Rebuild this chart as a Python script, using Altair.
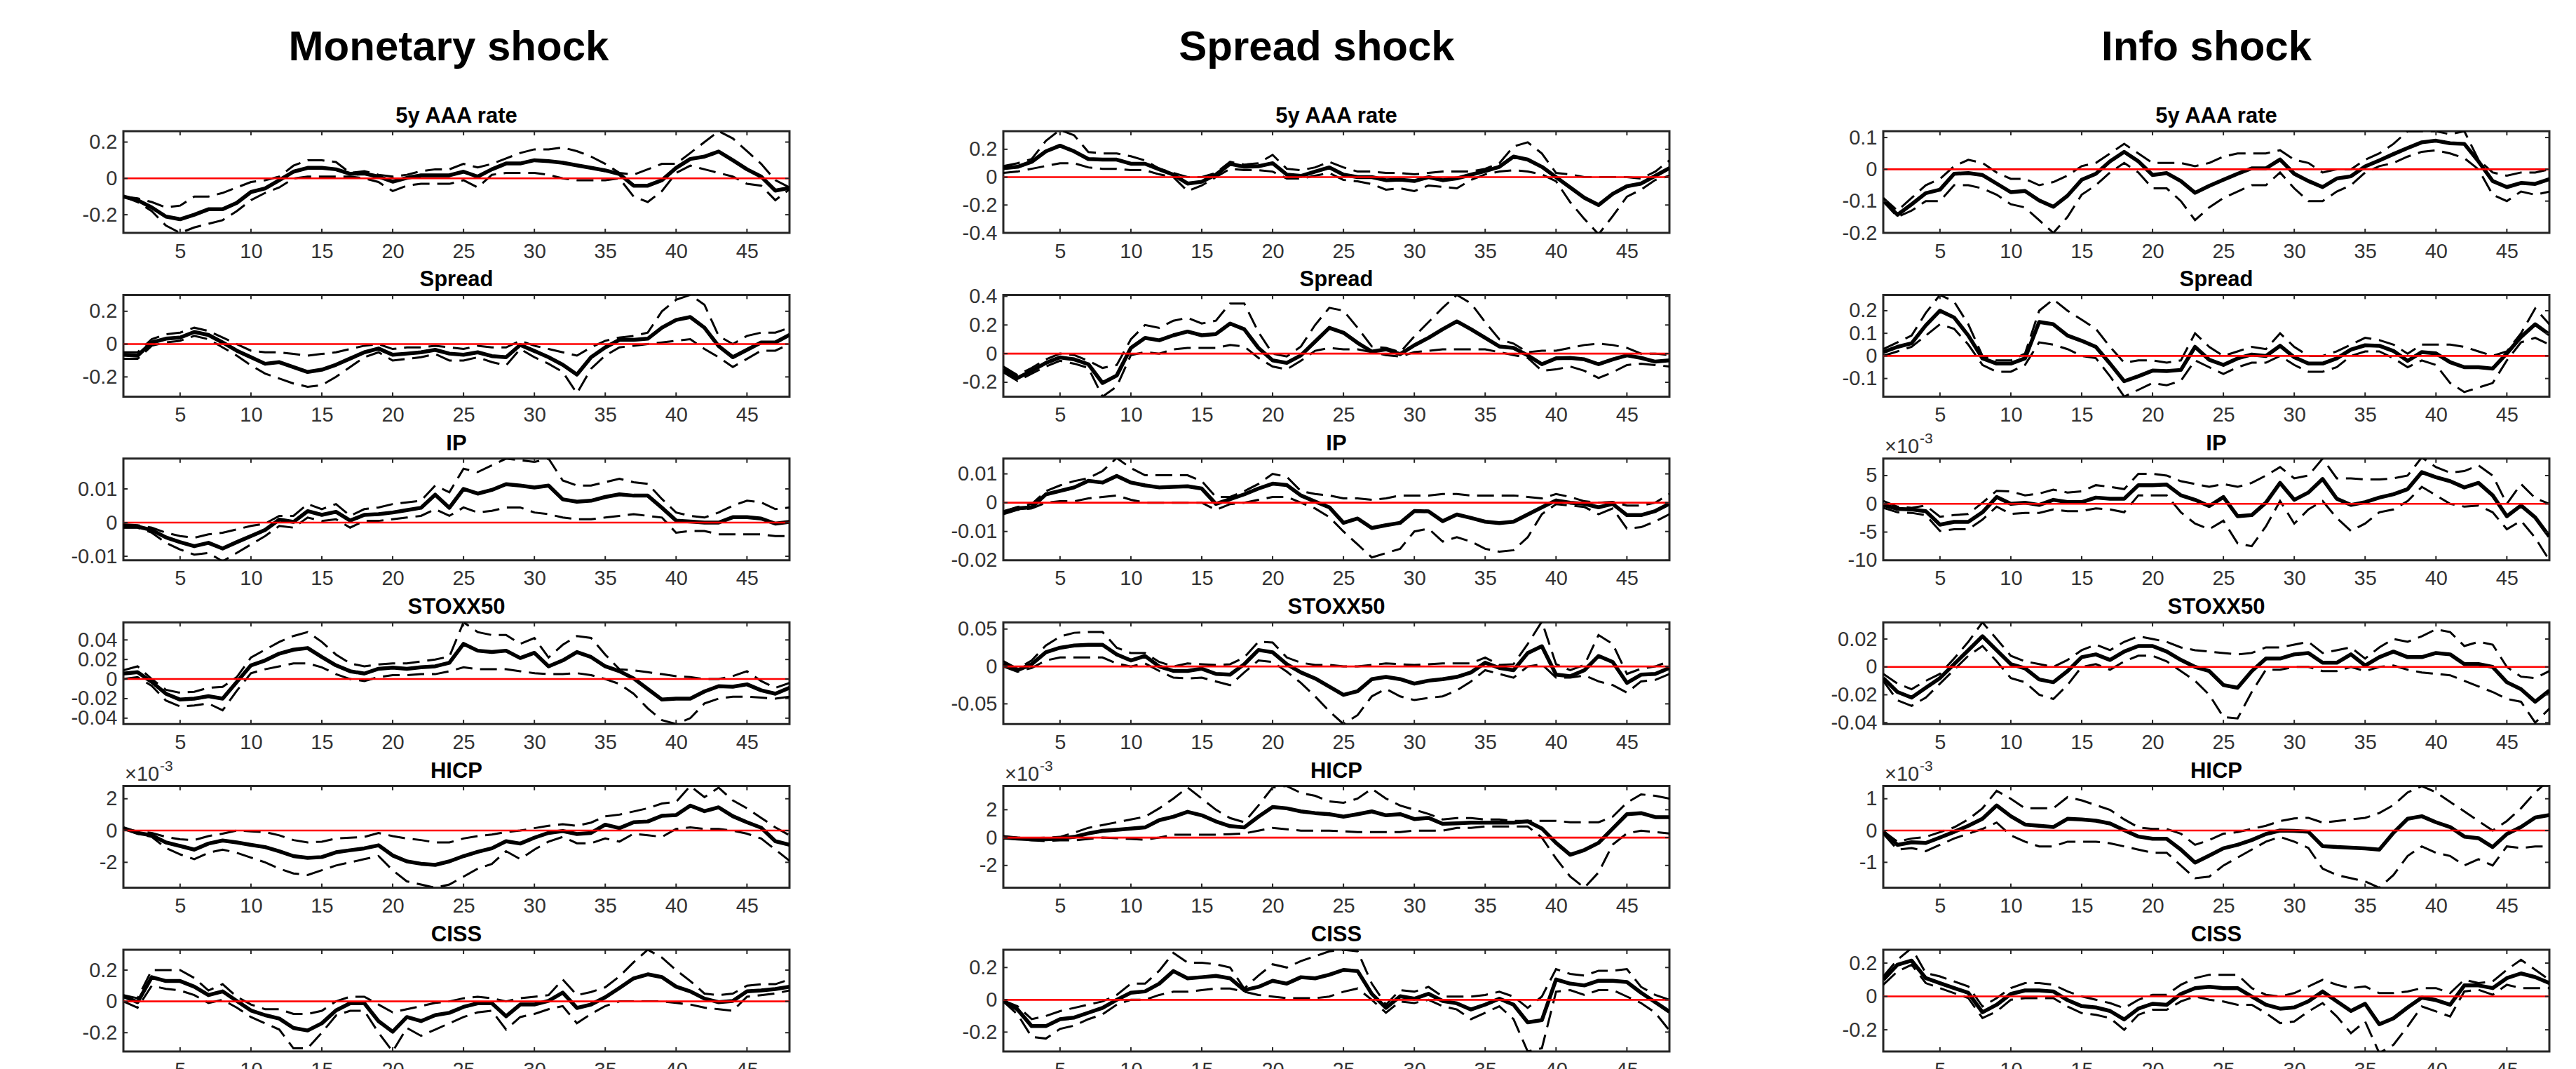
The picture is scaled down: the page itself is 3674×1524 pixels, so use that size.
import altair as alt
import pandas as pd

FONT = "Liberation Sans"
FRAME = "#262626"
LABEL = "#333333"

H_STEPS = list(range(1, 49))
X_TICKS = [5, 10, 15, 20, 25, 30, 35, 40, 45]

SHOCKS = ["Monetary shock", "Spread shock", "Info shock"]
VARIABLES = ["5y AAA rate", "Spread", "IP", "STOXX50", "HICP", "CISS"]

# ---------------- Monetary shock ----------------
MON_AAA_IRF = [-0.10, -0.12, -0.16, -0.21, -0.225, -0.20, -0.17, -0.17, -0.135, -0.075, -0.055, -0.01,
               0.037, 0.058, 0.058, 0.05, 0.025, 0.027, 0.01, -0.018, 0.003, 0.017, 0.017, 0.017,
               0.037, 0.01, 0.05, 0.082, 0.082, 0.10, 0.095, 0.086, 0.072, 0.058, 0.044, 0.024,
               -0.04, -0.04, -0.01, 0.058, 0.107, 0.12, 0.148, 0.10, 0.05, 0.01, -0.067, -0.053]
MON_AAA_UP = [-0.10, -0.11, -0.13, -0.16, -0.15, -0.10, -0.10, -0.08, -0.05, -0.02, -0.01, 0.01,
              0.07, 0.10, 0.10, 0.09, 0.03, 0.04, 0.02, 0.01, 0.02, 0.04, 0.05, 0.05,
              0.08, 0.06, 0.08, 0.11, 0.14, 0.16, 0.16, 0.17, 0.15, 0.12, 0.08, 0.03,
              0.02, 0.05, 0.08, 0.08, 0.14, 0.20, 0.26, 0.22, 0.15, 0.08, -0.01, -0.05]
MON_AAA_LO = [-0.10, -0.13, -0.18, -0.26, -0.30, -0.27, -0.25, -0.23, -0.18, -0.12, -0.08, -0.05,
              0.0, 0.01, 0.01, 0.01, 0.01, 0.0, -0.02, -0.07, -0.04, -0.03, -0.03, -0.03,
              -0.01, -0.05, 0.02, 0.03, 0.03, 0.03, 0.02, 0.0, -0.01, -0.01, -0.01, 0.0,
              -0.10, -0.13, -0.07, 0.03, 0.07, 0.05, 0.03, 0.01, -0.03, -0.04, -0.12, -0.06]

MON_SPR_IRF = [-0.065, -0.07, 0.01, 0.033, 0.04, 0.074, 0.056, 0.01, -0.04, -0.08, -0.12, -0.11,
               -0.14, -0.17, -0.156, -0.126, -0.088, -0.05, -0.027, -0.065, -0.058, -0.05, -0.035, -0.058,
               -0.065, -0.05, -0.073, -0.08, -0.005, -0.042, -0.08, -0.126, -0.186, -0.08, -0.02, 0.026,
               0.026, 0.033, 0.10, 0.147, 0.165, 0.10, -0.012, -0.08, -0.035, 0.01, 0.01, 0.056]
MON_SPR_UP = [-0.05, -0.05, 0.03, 0.06, 0.07, 0.10, 0.08, 0.04, 0.0, -0.04, -0.05, -0.05,
              -0.06, -0.07, -0.06, -0.05, -0.03, -0.01, 0.0, -0.03, -0.02, -0.02, -0.01, -0.02,
              -0.03, -0.01, -0.02, -0.02, 0.02, -0.01, -0.03, -0.05, -0.07, -0.02, 0.02, 0.04,
              0.05, 0.07, 0.20, 0.27, 0.30, 0.24, 0.05, 0.0, 0.05, 0.07, 0.07, 0.10]
MON_SPR_LO = [-0.09, -0.09, -0.01, 0.01, 0.02, 0.05, 0.03, -0.02, -0.07, -0.13, -0.18, -0.21,
              -0.24, -0.26, -0.25, -0.20, -0.14, -0.08, -0.05, -0.10, -0.09, -0.08, -0.06, -0.10,
              -0.10, -0.08, -0.11, -0.13, -0.03, -0.08, -0.12, -0.17, -0.30, -0.15, -0.07, -0.02,
              -0.01, 0.0, 0.01, 0.02, 0.03, -0.03, -0.08, -0.14, -0.09, -0.04, -0.04, 0.0]

MON_IP_IRF = [-0.0012, -0.0012, -0.0022, -0.0044, -0.0058, -0.007, -0.006, -0.0077, -0.0058, -0.004, -0.0022, 0.0009,
              0.0002, 0.0034, 0.0023, 0.0032, 0.0006, 0.0023, 0.0025, 0.003, 0.0037, 0.0044, 0.0083, 0.0044,
              0.01, 0.0086, 0.0097, 0.0114, 0.011, 0.0104, 0.011, 0.0069, 0.0062, 0.0065, 0.0076, 0.0084,
              0.008, 0.008, 0.0044, 0.0006, 0.0003, 0.0, 0.0, 0.0016, 0.0016, 0.0012, -0.0003, 0.0002]
MON_IP_UP = [-0.0005, -0.0008, -0.0015, -0.003, -0.004, -0.0045, -0.0035, -0.003, -0.002, -0.001, -0.0003, 0.002,
             0.002, 0.0055, 0.004, 0.0055, 0.002, 0.004, 0.0045, 0.0055, 0.006, 0.0065, 0.011, 0.009,
             0.016, 0.015, 0.017, 0.019, 0.0185, 0.018, 0.019, 0.0125, 0.011, 0.011, 0.012, 0.013,
             0.012, 0.0115, 0.007, 0.003, 0.002, 0.0015, 0.003, 0.005, 0.0065, 0.006, 0.004, 0.0045]
MON_IP_LO = [-0.0015, -0.0015, -0.003, -0.006, -0.008, -0.0095, -0.009, -0.0115, -0.009, -0.0065, -0.004, -0.001,
             -0.0015, 0.0015, 0.0005, 0.001, -0.0015, 0.0005, 0.0005, 0.001, 0.0015, 0.002, 0.004, 0.002,
             0.0045, 0.003, 0.0035, 0.0045, 0.0045, 0.003, 0.0025, 0.0015, 0.001, 0.001, 0.0015, 0.002,
             0.0025, 0.002, 0.0015, -0.003, -0.0025, -0.0025, -0.0035, -0.0035, -0.0035, -0.0035, -0.004, -0.004]

MON_STX_IRF = [0.0056, 0.007, -0.003, -0.015, -0.021, -0.02, -0.0175, -0.02, -0.003, 0.014, 0.019, 0.026,
               0.03, 0.0317, 0.0225, 0.014, 0.008, 0.0056, 0.0105, 0.0117, 0.0105, 0.012, 0.013, 0.0166,
               0.036, 0.029, 0.0276, 0.029, 0.0215, 0.0268, 0.013, 0.019, 0.0276, 0.0225, 0.013, 0.008,
               0.0007, -0.0102, -0.021, -0.02, -0.02, -0.0127, -0.0073, -0.0078, -0.0054, -0.0115, -0.015, -0.009]
MON_STX_UP = [0.009, 0.013, 0.0, -0.011, -0.014, -0.013, -0.009, -0.008, 0.002, 0.022, 0.03, 0.038,
              0.044, 0.048, 0.038, 0.025, 0.016, 0.013, 0.015, 0.016, 0.016, 0.018, 0.02, 0.023,
              0.058, 0.048, 0.045, 0.045, 0.036, 0.042, 0.022, 0.035, 0.044, 0.042, 0.025, 0.01,
              0.009, 0.007, 0.005, 0.003, 0.002, 0.0, 0.0, 0.003, 0.008, -0.002, -0.009, -0.004]
MON_STX_LO = [0.0, 0.002, -0.007, -0.022, -0.028, -0.027, -0.025, -0.032, -0.012, 0.006, 0.01, 0.013,
              0.016, 0.016, 0.012, 0.005, 0.0, -0.002, 0.002, 0.004, 0.004, 0.005, 0.005, 0.008,
              0.012, 0.01, 0.01, 0.01, 0.008, 0.006, 0.005, 0.005, 0.006, 0.004, 0.0, -0.005,
              -0.015, -0.03, -0.042, -0.046, -0.04, -0.025, -0.02, -0.018, -0.018, -0.019, -0.02, -0.018]

# HICP values in units of 1e-3
MON_HICP_IRF = [0.15, -0.15, -0.3, -0.75, -0.97, -1.2, -0.82, -0.63, -0.75, -0.9, -1.04, -1.31,
                -1.61, -1.72, -1.67, -1.37, -1.24, -1.12, -0.93, -1.57, -1.94, -2.09, -2.16, -1.94,
                -1.61, -1.34, -1.12, -0.67, -0.82, -0.45, -0.15, -0.03, -0.22, -0.15, 0.37, 0.15,
                0.52, 0.57, 0.93, 0.97, 1.57, 1.22, 1.46, 0.9, 0.52, 0.18, -0.67, -0.9]
MON_HICP_UP = [0.15, -0.05, -0.15, -0.4, -0.55, -0.6, -0.35, -0.2, 0.0, -0.05, -0.1, -0.3,
               -0.6, -0.75, -0.7, -0.5, -0.45, -0.4, -0.15, -0.35, -0.5, -0.6, -0.75, -0.75,
               -0.5, -0.35, -0.25, -0.1, 0.0, 0.15, 0.3, 0.4, 0.3, 0.5, 0.9, 1.0,
               1.2, 1.4, 1.7, 1.8, 2.8, 2.1, 2.7, 1.9, 1.4, 0.8, 0.2, -0.3]
MON_HICP_LO = [0.1, -0.2, -0.4, -1.1, -1.5, -1.8, -1.4, -1.2, -1.4, -1.7, -2.0, -2.4,
               -2.7, -2.8, -2.5, -2.2, -2.0, -1.8, -1.6, -2.5, -3.2, -3.4, -3.6, -3.4,
               -2.9, -2.4, -2.1, -1.3, -1.8, -1.2, -0.7, -0.4, -0.8, -0.8, -0.5, -0.7,
               -0.2, -0.3, -0.4, 0.1, 0.2, 0.1, 0.1, 0.0, -0.2, -0.5, -1.2, -1.9]

MON_CISS_IRF = [0.033, -0.005, 0.155, 0.13, 0.13, 0.094, 0.04, 0.064, 0.003, -0.058, -0.088, -0.11,
                -0.17, -0.186, -0.14, -0.058, -0.012, -0.012, -0.126, -0.194, -0.1, -0.126, -0.088, -0.073,
                -0.035, -0.012, -0.012, -0.095, -0.02, -0.02, 0.003, 0.056, -0.042, -0.02, 0.026, 0.086,
                0.147, 0.173, 0.155, 0.094, 0.064, 0.018, -0.005, 0.003, 0.064, 0.07, 0.079, 0.094]
MON_CISS_UP = [0.04, 0.02, 0.2, 0.2, 0.2, 0.15, 0.07, 0.11, 0.03, -0.02, -0.05, -0.05,
               -0.08, -0.08, -0.06, 0.0, 0.03, 0.03, -0.02, -0.07, -0.05, -0.03, -0.01, 0.0,
               0.02, 0.03, 0.02, 0.0, 0.02, 0.03, 0.04, 0.14, 0.04, 0.06, 0.09, 0.16,
               0.25, 0.33, 0.28, 0.20, 0.13, 0.05, 0.04, 0.05, 0.1, 0.11, 0.11, 0.14]
MON_CISS_LO = [0.0, -0.04, 0.1, 0.08, 0.07, 0.04, -0.01, 0.01, -0.04, -0.1, -0.14, -0.18,
               -0.3, -0.3, -0.2, -0.09, -0.06, -0.06, -0.2, -0.32, -0.17, -0.22, -0.18, -0.14,
               -0.1, -0.07, -0.06, -0.18, -0.1, -0.08, -0.05, -0.03, -0.14, -0.08, -0.03, 0.0,
               0.0, 0.0, 0.0, -0.01, -0.02, -0.04, -0.05, -0.06, 0.03, 0.04, 0.05, 0.07]

# ---------------- Spread shock ----------------
SPR_AAA_IRF = [0.065, 0.074, 0.11, 0.185, 0.226, 0.185, 0.13, 0.126, 0.126, 0.096, 0.096, 0.056,
               0.018, -0.046, -0.033, 0.018, 0.096, 0.074, 0.078, 0.10, 0.018, 0.009, 0.04, 0.07,
               0.018, 0.0, 0.0, -0.022, -0.018, -0.028, 0.0, -0.022, -0.009, 0.018, 0.044, 0.074,
               0.148, 0.126, 0.074, 0.0, -0.074, -0.148, -0.20, -0.12, -0.065, -0.046, 0.009, 0.065]
SPR_AAA_UP = [0.08, 0.10, 0.13, 0.26, 0.34, 0.30, 0.18, 0.17, 0.17, 0.15, 0.12, 0.06,
              0.03, 0.0, 0.0, 0.03, 0.11, 0.09, 0.10, 0.16, 0.06, 0.05, 0.07, 0.11,
              0.07, 0.04, 0.04, 0.03, 0.03, 0.02, 0.03, 0.04, 0.04, 0.04, 0.06, 0.10,
              0.22, 0.25, 0.17, 0.03, 0.02, 0.0, 0.0, 0.0, 0.0, -0.01, 0.04, 0.12]
SPR_AAA_LO = [0.03, 0.04, 0.06, 0.08, 0.10, 0.10, 0.07, 0.06, 0.06, 0.05, 0.05, 0.02,
              0.0, -0.10, -0.06, 0.0, 0.06, 0.05, 0.05, 0.04, -0.01, -0.01, 0.01, 0.03,
              -0.02, -0.03, -0.05, -0.09, -0.08, -0.10, -0.06, -0.07, -0.08, -0.02, 0.02, 0.04,
              0.05, 0.04, 0.02, -0.03, -0.18, -0.30, -0.41, -0.28, -0.14, -0.09, -0.02, 0.01]

SPR_SPR_IRF = [-0.11, -0.17, -0.12, -0.065, -0.026, -0.04, -0.074, -0.205, -0.153, 0.04, 0.11, 0.093,
               0.128, 0.154, 0.128, 0.137, 0.21, 0.17, 0.04, -0.047, -0.065, -0.012, 0.084, 0.18,
               0.146, 0.075, 0.014, 0.03, -0.004, 0.058, 0.11, 0.17, 0.225, 0.17, 0.11, 0.05,
               0.04, -0.012, -0.074, -0.033, -0.03, -0.04, -0.074, -0.04, -0.012, -0.03, -0.056, -0.047]
SPR_SPR_UP = [-0.09, -0.15, -0.10, -0.04, 0.0, -0.01, -0.05, -0.10, -0.08, 0.10, 0.20, 0.18,
              0.23, 0.25, 0.21, 0.23, 0.35, 0.35, 0.15, 0.0, -0.02, 0.05, 0.20, 0.32,
              0.30, 0.18, 0.05, 0.04, 0.01, 0.12, 0.22, 0.32, 0.41, 0.35, 0.22, 0.10,
              0.07, 0.01, 0.02, 0.02, 0.04, 0.06, 0.07, 0.06, 0.04, 0.0, 0.0, -0.01]
SPR_SPR_LO = [-0.13, -0.19, -0.14, -0.09, -0.05, -0.07, -0.10, -0.30, -0.23, -0.01, 0.01, 0.0,
              0.03, 0.04, 0.04, 0.04, 0.06, 0.05, -0.03, -0.09, -0.11, -0.05, 0.02, 0.04,
              0.03, 0.03, 0.01, -0.01, -0.02, 0.01, 0.02, 0.03, 0.03, 0.03, 0.03, 0.01,
              -0.01, -0.03, -0.12, -0.11, -0.09, -0.12, -0.17, -0.13, -0.08, -0.07, -0.08, -0.09]

SPR_IP_IRF = [-0.0033, -0.002, -0.0016, 0.0029, 0.0041, 0.0053, 0.0076, 0.007, 0.0093, 0.007, 0.006, 0.0053,
              0.0055, 0.0057, 0.0049, -0.0004, 0.0012, 0.0029, 0.0049, 0.0066, 0.0061, 0.0025, 0.0004, -0.0016,
              -0.007, -0.0055, -0.0088, -0.0078, -0.007, -0.0029, -0.003, -0.0064, -0.0041, -0.0053, -0.0066, -0.0071,
              -0.0066, -0.0041, -0.0016, 0.0008, 0.0, -0.0004, -0.0016, -0.0004, -0.0043, -0.0043, -0.0029, -0.0004]
SPR_IP_UP = [-0.003, -0.0015, -0.0005, 0.004, 0.006, 0.0075, 0.0085, 0.011, 0.0155, 0.012, 0.0095, 0.0095,
             0.0095, 0.0095, 0.0075, 0.002, 0.002, 0.004, 0.0065, 0.01, 0.009, 0.004, 0.003, 0.0025,
             0.0015, 0.0015, 0.001, 0.0015, 0.0025, 0.0025, 0.0025, 0.003, 0.003, 0.0025, 0.0025, 0.0025,
             0.0025, 0.002, 0.0015, 0.003, 0.002, 0.0005, 0.0, 0.0003, -0.001, -0.001, 0.0, 0.003]
SPR_IP_LO = [-0.004, -0.0025, -0.002, 0.0, 0.0005, 0.0005, 0.0015, 0.002, 0.0025, 0.001, 0.0, 0.0,
             0.0, 0.0, 0.0, -0.0025, -0.0005, 0.0, 0.001, 0.002, 0.002, 0.0, -0.002, -0.005,
             -0.01, -0.0145, -0.019, -0.0175, -0.016, -0.01, -0.009, -0.0135, -0.012, -0.0135, -0.016, -0.017,
             -0.0165, -0.012, -0.004, -0.0005, -0.001, -0.0015, -0.004, -0.002, -0.009, -0.0085, -0.0065, -0.004]

SPR_STX_IRF = [0.003, -0.005, 0.003, 0.019, 0.025, 0.028, 0.029, 0.029, 0.016, 0.008, 0.014, 0.0,
               -0.006, -0.006, -0.003, -0.01, -0.011, 0.003, 0.022, 0.019, 0.003, -0.008, -0.016, -0.027,
               -0.038, -0.033, -0.017, -0.014, -0.017, -0.023, -0.019, -0.017, -0.014, -0.008, 0.005, -0.002,
               -0.005, 0.018, 0.027, -0.011, -0.013, -0.005, 0.014, 0.006, -0.022, -0.011, -0.01, -0.002]
SPR_STX_UP = [0.007, -0.003, 0.008, 0.028, 0.040, 0.045, 0.046, 0.046, 0.025, 0.018, 0.018, 0.006,
              0.0, 0.004, 0.003, 0.002, 0.003, 0.012, 0.033, 0.032, 0.012, 0.005, 0.002, 0.002,
              0.0, 0.0, 0.002, 0.004, 0.003, 0.002, 0.003, 0.004, 0.004, 0.004, 0.012, 0.002,
              0.003, 0.030, 0.060, 0.003, -0.005, 0.002, 0.042, 0.03, -0.01, -0.003, 0.0, 0.007]
SPR_STX_LO = [0.0, -0.007, -0.002, 0.008, 0.012, 0.012, 0.012, 0.012, 0.004, 0.0, 0.004, -0.006,
              -0.015, -0.016, -0.015, -0.02, -0.025, -0.008, 0.008, 0.006, -0.007, -0.022, -0.04, -0.06,
              -0.077, -0.065, -0.04, -0.03, -0.04, -0.045, -0.042, -0.04, -0.032, -0.02, -0.005, -0.01,
              -0.015, 0.0, 0.003, -0.015, -0.015, -0.012, -0.02, -0.025, -0.035, -0.02, -0.018, -0.01]

SPR_HICP_IRF = [0.0, -0.07, -0.12, -0.12, -0.07, 0.05, 0.3, 0.48, 0.56, 0.65, 0.73, 1.25,
                1.5, 1.85, 1.6, 1.16, 0.82, 0.73, 1.5, 2.19, 2.1, 1.88, 1.76, 1.68,
                1.5, 1.68, 1.88, 1.6, 1.68, 1.33, 1.42, 0.99, 1.03, 1.08, 1.08, 1.08,
                1.08, 1.16, 0.65, -0.38, -1.23, -0.89, -0.38, 0.65, 1.68, 1.76, 1.47, 1.47]
SPR_HICP_UP = [0.1, 0.0, -0.05, 0.0, 0.05, 0.35, 0.7, 0.9, 1.1, 1.3, 1.5, 2.1,
               2.8, 3.6, 2.8, 2.0, 1.4, 1.1, 2.3, 3.6, 3.7, 3.2, 3.0, 2.6,
               2.5, 2.8, 3.5, 2.8, 2.3, 2.0, 1.7, 1.3, 1.4, 1.4, 1.3, 1.3,
               1.2, 1.2, 1.2, 1.2, 1.1, 1.1, 1.1, 1.5, 2.5, 3.1, 3.0, 2.8]
SPR_HICP_LO = [-0.05, -0.1, -0.2, -0.25, -0.2, -0.2, -0.1, 0.0, -0.05, -0.1, -0.15, 0.0,
               0.2, 0.2, 0.2, 0.2, 0.25, 0.3, 0.5, 0.7, 0.6, 0.5, 0.5, 0.5,
               0.45, 0.4, 0.4, 0.4, 0.4, 0.5, 0.5, 0.5, 0.7, 0.7, 0.8, 0.8,
               0.8, 0.8, 0.0, -1.5, -2.8, -3.6, -2.5, -0.5, 0.3, 0.5, 0.4, 0.3]

SPR_CISS_IRF = [-0.007, -0.06, -0.163, -0.163, -0.12, -0.11, -0.08, -0.05, 0.0, 0.044, 0.052, 0.10,
                0.178, 0.133, 0.14, 0.148, 0.133, 0.06, 0.08, 0.118, 0.10, 0.14, 0.133, 0.155,
                0.185, 0.178, 0.037, -0.05, 0.022, 0.007, 0.037, -0.007, -0.022, -0.06, -0.03, 0.007,
                -0.03, -0.14, -0.126, 0.126, 0.10, 0.089, 0.118, 0.118, 0.11, 0.044, -0.015, -0.074]
SPR_CISS_UP = [-0.005, -0.04, -0.12, -0.10, -0.07, -0.05, -0.03, -0.01, 0.03, 0.10, 0.10, 0.18,
               0.29, 0.23, 0.23, 0.22, 0.20, 0.07, 0.15, 0.22, 0.20, 0.24, 0.27, 0.30,
               0.31, 0.30, 0.10, -0.03, 0.06, 0.05, 0.08, 0.02, 0.02, 0.02, 0.03, 0.05,
               0.02, -0.05, 0.02, 0.19, 0.16, 0.15, 0.18, 0.18, 0.19, 0.08, 0.03, 0.0]
SPR_CISS_LO = [-0.01, -0.09, -0.23, -0.24, -0.18, -0.16, -0.12, -0.09, -0.03, 0.0, 0.0, 0.03,
               0.05, 0.05, 0.06, 0.07, 0.07, 0.05, 0.03, 0.02, 0.01, 0.01, 0.01, 0.02,
               0.05, 0.07, 0.0, -0.08, -0.01, -0.02, 0.0, -0.04, -0.06, -0.12, -0.08, -0.04,
               -0.12, -0.32, -0.30, 0.05, 0.06, 0.03, 0.06, 0.06, 0.02, -0.02, -0.08, -0.19]

# ---------------- Info shock ----------------
INF_AAA_IRF = [-0.098, -0.143, -0.11, -0.075, -0.064, -0.014, -0.012, -0.018, -0.045, -0.072, -0.068, -0.098,
               -0.118, -0.083, -0.033, -0.014, 0.025, 0.055, 0.025, -0.018, -0.012, -0.037, -0.074, -0.052,
               -0.033, -0.014, 0.003, 0.003, 0.031, -0.014, -0.037, -0.056, -0.029, -0.022, 0.009, 0.028,
               0.048, 0.067, 0.085, 0.09, 0.082, 0.08, 0.025, -0.037, -0.056, -0.043, -0.046, -0.031]
INF_AAA_UP = [-0.09, -0.13, -0.09, -0.05, -0.03, 0.01, 0.03, 0.02, -0.01, -0.03, -0.03, -0.05,
              -0.04, -0.02, 0.01, 0.02, 0.05, 0.08, 0.05, 0.02, 0.02, 0.02, 0.01, 0.02,
              0.04, 0.05, 0.05, 0.05, 0.06, 0.03, 0.02, -0.01, 0.0, 0.0, 0.03, 0.05,
              0.08, 0.12, 0.12, 0.12, 0.11, 0.12, 0.03, -0.01, -0.02, -0.01, -0.01, 0.0]
INF_AAA_LO = [-0.10, -0.15, -0.13, -0.10, -0.10, -0.05, -0.05, -0.06, -0.08, -0.11, -0.12, -0.16,
              -0.20, -0.15, -0.08, -0.05, -0.01, 0.02, -0.01, -0.06, -0.06, -0.10, -0.16, -0.12,
              -0.09, -0.07, -0.05, -0.05, -0.01, -0.06, -0.10, -0.10, -0.07, -0.05, -0.01, 0.01,
              0.02, 0.04, 0.055, 0.06, 0.05, 0.035, 0.0, -0.08, -0.10, -0.07, -0.08, -0.07]

INF_SPR_IRF = [0.017, 0.04, 0.056, 0.135, 0.20, 0.17, 0.09, -0.011, -0.034, -0.034, -0.011, 0.15,
               0.14, 0.09, 0.067, 0.04, -0.034, -0.112, -0.09, -0.065, -0.067, -0.062, 0.04, -0.017,
               -0.04, -0.011, 0.006, 0.0, 0.045, -0.006, -0.034, -0.034, -0.011, 0.028, 0.047, 0.045,
               0.022, -0.022, 0.017, 0.011, -0.028, -0.05, -0.05, -0.056, 0.011, 0.084, 0.14, 0.095]
INF_SPR_UP = [0.03, 0.06, 0.09, 0.19, 0.27, 0.24, 0.14, 0.0, -0.02, -0.02, 0.01, 0.20,
              0.25, 0.20, 0.16, 0.12, 0.04, -0.03, -0.02, -0.02, -0.03, -0.02, 0.10, 0.04,
              0.0, 0.02, 0.04, 0.03, 0.10, 0.04, 0.0, 0.0, 0.02, 0.05, 0.08, 0.07,
              0.05, 0.01, 0.05, 0.05, 0.05, 0.04, 0.02, 0.0, 0.02, 0.10, 0.21, 0.14]
INF_SPR_LO = [0.0, 0.02, 0.04, 0.09, 0.14, 0.12, 0.05, -0.04, -0.07, -0.07, -0.04, 0.06,
              0.05, 0.03, 0.0, -0.01, -0.09, -0.18, -0.15, -0.12, -0.13, -0.11, -0.02, -0.05,
              -0.08, -0.05, -0.03, -0.03, 0.0, -0.04, -0.07, -0.07, -0.05, 0.0, 0.02, 0.02,
              -0.01, -0.05, -0.02, -0.04, -0.12, -0.16, -0.14, -0.12, -0.02, 0.06, 0.08, 0.05]

# IP (info shock) values in units of 1e-3
INF_IP_IRF = [-0.2, -0.9, -1.0, -1.3, -3.7, -3.2, -3.2, -1.5, 1.2, 0.0, 0.2, -0.2,
              0.7, 0.3, 0.3, 1.1, 0.9, 0.9, 3.3, 3.3, 3.4, 1.5, 0.7, -0.4,
              1.2, -2.2, -2.0, 0.2, 3.7, 0.7, 2.0, 4.4, 0.9, -0.2, 0.3, 1.1,
              1.7, 2.6, 5.6, 4.7, 4.0, 2.9, 3.7, 1.5, -2.2, -0.3, -2.4, -5.8]
INF_IP_UP = [0.5, -0.5, -0.7, -0.3, -2.3, -2.0, -1.8, 0.2, 2.3, 2.2, 1.5, 1.8,
             2.5, 2.0, 2.2, 3.3, 3.0, 2.6, 5.3, 5.3, 5.0, 4.0, 3.5, 3.0,
             3.5, 3.0, 3.7, 5.0, 6.5, 4.5, 5.0, 8.0, 4.5, 4.5, 4.3, 4.3,
             4.5, 5.0, 8.2, 6.5, 5.5, 5.8, 6.8, 5.0, 0.0, 3.5, 1.0, 0.0]
INF_IP_LO = [-0.7, -1.5, -1.6, -2.0, -4.8, -4.5, -4.5, -2.8, -0.5, -1.8, -1.6, -1.6,
             -1.0, -1.3, -1.3, -0.8, -1.0, -1.5, 1.5, 1.5, 1.5, -1.5, -3.5, -4.5,
             -3.0, -7.0, -7.5, -4.0, 0.5, -3.5, -1.0, 0.5, -2.5, -4.8, -3.5, -1.5,
             -1.0, 0.5, 3.0, 1.5, 0.0, -0.5, -0.3, -1.5, -4.5, -3.0, -6.0, -10.0]

INF_STX_IRF = [-0.008, -0.018, -0.022, -0.015, -0.008, 0.002, 0.012, 0.022, 0.012, 0.002, -0.001, -0.009,
               -0.011, -0.003, 0.007, 0.009, 0.005, 0.011, 0.015, 0.015, 0.011, 0.005, 0.0, -0.003,
               -0.013, -0.015, -0.003, 0.006, 0.006, 0.009, 0.01, 0.003, 0.003, 0.009, 0.001, 0.007,
               0.011, 0.007, 0.007, 0.01, 0.009, 0.002, 0.002, 0.0, -0.011, -0.016, -0.025, -0.017]
INF_STX_UP = [-0.005, -0.012, -0.016, -0.01, -0.005, 0.006, 0.018, 0.032, 0.02, 0.008, 0.004, 0.002,
              0.0, 0.005, 0.012, 0.016, 0.012, 0.018, 0.022, 0.02, 0.018, 0.014, 0.012, 0.011,
              0.01, 0.009, 0.01, 0.014, 0.014, 0.016, 0.018, 0.01, 0.012, 0.014, 0.006, 0.014,
              0.02, 0.018, 0.022, 0.027, 0.025, 0.015, 0.018, 0.016, 0.0, -0.007, -0.008, -0.003]
INF_STX_LO = [-0.01, -0.024, -0.028, -0.022, -0.012, -0.002, 0.008, 0.015, 0.004, -0.008, -0.011, -0.02,
              -0.023, -0.013, 0.0, 0.002, -0.002, 0.004, 0.008, 0.008, 0.004, -0.003, -0.01, -0.02,
              -0.036, -0.037, -0.018, -0.002, -0.002, 0.0, 0.0, -0.003, -0.003, 0.0, -0.003, 0.0,
              0.001, -0.002, -0.004, -0.005, -0.006, -0.01, -0.014, -0.018, -0.023, -0.025, -0.04, -0.03]

INF_HICP_IRF = [-0.04, -0.45, -0.37, -0.39, -0.22, -0.04, 0.15, 0.37, 0.79, 0.45, 0.19, 0.15,
                0.11, 0.37, 0.35, 0.31, 0.22, 0.01, -0.19, -0.26, -0.26, -0.6, -1.01, -0.79,
                -0.56, -0.45, -0.3, -0.11, 0.0, -0.01, -0.04, -0.49, -0.52, -0.54, -0.56, -0.6,
                -0.07, 0.37, 0.45, 0.26, 0.11, -0.19, -0.24, -0.52, -0.11, 0.11, 0.41, 0.49]
INF_HICP_UP = [-0.02, -0.35, -0.25, -0.2, -0.05, 0.1, 0.35, 0.7, 1.25, 1.0, 0.7, 0.7,
               0.7, 1.05, 0.95, 0.8, 0.65, 0.35, 0.1, 0.05, 0.05, -0.1, -0.45, -0.3,
               -0.1, -0.05, 0.05, 0.15, 0.3, 0.38, 0.4, 0.25, 0.3, 0.35, 0.4, 0.55,
               0.8, 1.2, 1.4, 1.2, 0.9, 0.6, 0.3, 0.0, 0.3, 0.7, 1.2, 1.6]
INF_HICP_LO = [-0.1, -0.6, -0.55, -0.65, -0.45, -0.25, -0.1, 0.05, 0.25, -0.15, -0.35, -0.5,
               -0.5, -0.35, -0.35, -0.35, -0.4, -0.5, -0.6, -0.7, -0.7, -1.1, -1.5, -1.45,
               -1.1, -0.85, -0.6, -0.35, -0.2, -0.35, -0.55, -1.2, -1.4, -1.5, -1.6, -1.8,
               -1.4, -0.8, -0.5, -0.7, -0.8, -1.1, -0.9, -1.1, -0.5, -0.55, -0.5, -0.5]

INF_CISS_IRF = [0.10, 0.19, 0.215, 0.11, 0.08, 0.05, 0.022, -0.095, -0.05, 0.015, 0.036, 0.036,
                0.03, -0.022, -0.058, -0.066, -0.087, -0.138, -0.073, -0.044, -0.05, 0.015, 0.05, 0.058,
                0.05, 0.05, 0.0, -0.05, -0.073, -0.066, -0.029, 0.03, -0.029, -0.087, -0.044, -0.167,
                -0.131, -0.066, -0.007, -0.022, -0.05, 0.066, 0.066, 0.05, 0.11, 0.138, 0.116, 0.08]
INF_CISS_UP = [0.12, 0.22, 0.29, 0.14, 0.12, 0.09, 0.06, -0.06, -0.01, 0.05, 0.08, 0.08,
               0.07, 0.03, 0.0, -0.02, -0.04, -0.07, -0.02, 0.01, 0.01, 0.07, 0.11, 0.13,
               0.13, 0.13, 0.05, 0.01, 0.0, 0.02, 0.06, 0.10, 0.07, 0.05, 0.06, 0.02,
               0.02, 0.03, 0.05, 0.05, 0.02, 0.10, 0.08, 0.09, 0.16, 0.22, 0.16, 0.10]
INF_CISS_LO = [0.07, 0.15, 0.19, 0.08, 0.05, 0.02, -0.01, -0.13, -0.09, -0.02, -0.01, -0.01,
               -0.01, -0.06, -0.10, -0.11, -0.13, -0.20, -0.11, -0.08, -0.08, -0.03, 0.0, -0.02,
               -0.03, -0.05, -0.05, -0.10, -0.16, -0.15, -0.09, -0.04, -0.12, -0.22, -0.15, -0.34,
               -0.29, -0.18, -0.06, -0.09, -0.12, 0.03, 0.04, 0.01, 0.07, 0.05, 0.05, 0.05]

# (irf, upper, lower, y-range, y-ticks, shows x10^-3)
PANELS = {
    ("Monetary shock", "5y AAA rate"): (MON_AAA_IRF, MON_AAA_UP, MON_AAA_LO, [-0.30, 0.26], [-0.2, 0, 0.2], False),
    ("Monetary shock", "Spread"): (MON_SPR_IRF, MON_SPR_UP, MON_SPR_LO, [-0.32, 0.30], [-0.2, 0, 0.2], False),
    ("Monetary shock", "IP"): (MON_IP_IRF, MON_IP_UP, MON_IP_LO, [-0.0112, 0.019], [-0.01, 0, 0.01], False),
    ("Monetary shock", "STOXX50"): (MON_STX_IRF, MON_STX_UP, MON_STX_LO, [-0.046, 0.058], [-0.04, -0.02, 0, 0.02, 0.04], False),
    ("Monetary shock", "HICP"): (MON_HICP_IRF, MON_HICP_UP, MON_HICP_LO, [-3.6, 2.8], [-2, 0, 2], True),
    ("Monetary shock", "CISS"): (MON_CISS_IRF, MON_CISS_UP, MON_CISS_LO, [-0.32, 0.33], [-0.2, 0, 0.2], False),
    ("Spread shock", "5y AAA rate"): (SPR_AAA_IRF, SPR_AAA_UP, SPR_AAA_LO, [-0.40, 0.33], [-0.4, -0.2, 0, 0.2], False),
    ("Spread shock", "Spread"): (SPR_SPR_IRF, SPR_SPR_UP, SPR_SPR_LO, [-0.30, 0.41], [-0.2, 0, 0.2, 0.4], False),
    ("Spread shock", "IP"): (SPR_IP_IRF, SPR_IP_UP, SPR_IP_LO, [-0.02, 0.0153], [-0.02, -0.01, 0, 0.01], False),
    ("Spread shock", "STOXX50"): (SPR_STX_IRF, SPR_STX_UP, SPR_STX_LO, [-0.077, 0.059], [-0.05, 0, 0.05], False),
    ("Spread shock", "HICP"): (SPR_HICP_IRF, SPR_HICP_UP, SPR_HICP_LO, [-3.6, 3.7], [-2, 0, 2], True),
    ("Spread shock", "CISS"): (SPR_CISS_IRF, SPR_CISS_UP, SPR_CISS_LO, [-0.32, 0.31], [-0.2, 0, 0.2], False),
    ("Info shock", "5y AAA rate"): (INF_AAA_IRF, INF_AAA_UP, INF_AAA_LO, [-0.20, 0.12], [-0.2, -0.1, 0, 0.1], False),
    ("Info shock", "Spread"): (INF_SPR_IRF, INF_SPR_UP, INF_SPR_LO, [-0.18, 0.27], [-0.1, 0, 0.1, 0.2], False),
    ("Info shock", "IP"): (INF_IP_IRF, INF_IP_UP, INF_IP_LO, [-10, 8], [-10, -5, 0, 5], True),
    ("Info shock", "STOXX50"): (INF_STX_IRF, INF_STX_UP, INF_STX_LO, [-0.041, 0.032], [-0.04, -0.02, 0, 0.02], False),
    ("Info shock", "HICP"): (INF_HICP_IRF, INF_HICP_UP, INF_HICP_LO, [-1.8, 1.4], [-1, 0, 1], True),
    ("Info shock", "CISS"): (INF_CISS_IRF, INF_CISS_UP, INF_CISS_LO, [-0.33, 0.28], [-0.2, 0, 0.2], False),
}

for key, val in PANELS.items():
    for arr in val[:3]:
        if len(arr) != 48:
            raise ValueError(f"{key} has {len(arr)} values")

# layout (pixels)
PW, PH = 950, 145
TICK = 6
TITLE_DX = {"Monetary shock": -11, "Spread shock": -28, "Info shock": -14}


def make_panel(shock, var, first_row):
    irf, up, lo, dom, ticks, exp = PANELS[(shock, var)]
    df = pd.DataFrame({"h": H_STEPS, "irf": irf, "up": up, "lo": lo})
    xs = alt.Scale(domain=[1, 48], nice=False, zero=False)
    ys = alt.Scale(domain=dom, nice=False, zero=False)
    xax = alt.Axis(values=X_TICKS, labelPadding=12, labelFlush=False, labelOverlap=False)
    yax = alt.Axis(values=ticks, labelPadding=9, labelFlush=False, labelOverlap=False,
                   labelExpr="'' + datum.value")
    X = alt.X("h:Q", scale=xs, axis=xax, title=None)

    def Y(field):
        return alt.Y(field, type="quantitative", scale=ys, axis=yax, title=None)

    base = alt.Chart(df)
    layers = []
    for field in ["up", "lo"]:
        layers.append(base.mark_line(color="black", strokeWidth=3, strokeDash=[24, 11], clip=True)
                      .encode(x=X, y=Y(field)))
    layers.append(base.mark_line(color="black", strokeWidth=5.5, clip=True, strokeJoin="round")
                  .encode(x=X, y=Y("irf")))
    layers.append(alt.Chart(pd.DataFrame({"z": [0.0]}))
                  .mark_rule(color="#ff0000", strokeWidth=2.6)
                  .encode(y=Y("z")))
    # inward ticks (MATLAB style box)
    xt = alt.Chart(pd.DataFrame({"t": X_TICKS}))
    XT = alt.X("t:Q", scale=xs, axis=xax, title=None)
    layers.append(xt.mark_rule(color=FRAME, strokeWidth=2)
                  .encode(x=XT, y=alt.value(0), y2=alt.value(TICK)))
    layers.append(xt.mark_rule(color=FRAME, strokeWidth=2)
                  .encode(x=XT, y=alt.value(PH - TICK), y2=alt.value(PH)))
    yt = alt.Chart(pd.DataFrame({"v": ticks}))
    layers.append(yt.mark_rule(color=FRAME, strokeWidth=2)
                  .encode(y=Y("v"), x=alt.value(0), x2=alt.value(TICK)))
    layers.append(yt.mark_rule(color=FRAME, strokeWidth=2)
                  .encode(y=Y("v"), x=alt.value(PW - TICK), x2=alt.value(PW)))
    # panel title
    layers.append(alt.Chart(pd.DataFrame({"t": [var]}))
                  .mark_text(font=FONT, fontSize=31, fontWeight="bold", color="black",
                             align="center", baseline="alphabetic")
                  .encode(text="t:N", x=alt.value(PW / 2), y=alt.value(-12)))
    if exp:
        layers.append(alt.Chart(pd.DataFrame({"t": ["\u00d710"]}))
                      .mark_text(font=FONT, fontSize=29, color=LABEL, align="left", baseline="alphabetic")
                      .encode(text="t:N", x=alt.value(2), y=alt.value(-8)))
        layers.append(alt.Chart(pd.DataFrame({"t": ["-3"]}))
                      .mark_text(font=FONT, fontSize=21, color=LABEL, align="left", baseline="alphabetic")
                      .encode(text="t:N", x=alt.value(52), y=alt.value(-22)))
    if first_row:
        layers.append(alt.Chart(pd.DataFrame({"t": [shock]}))
                      .mark_text(font=FONT, fontSize=60, fontWeight="bold", color="black",
                                 align="center", baseline="alphabetic")
                      .encode(text="t:N", x=alt.value(PW / 2 + TITLE_DX[shock]), y=alt.value(-101)))
    return alt.layer(*layers).properties(width=PW, height=PH)


panels = []
for r, var in enumerate(VARIABLES):
    for shock in SHOCKS:
        panels.append(make_panel(shock, var, r == 0))

chart = (
    alt.concat(*panels, columns=3, spacing={"row": 88.4, "column": 305}, bounds="flush")
    .properties(padding={"left": 91, "top": 28, "right": 5, "bottom": 0})
    .configure_view(stroke=FRAME, strokeWidth=3)
    .configure_axis(grid=False, domain=False, ticks=False, labelFont=FONT,
                    labelFontSize=29, labelColor=LABEL)
)

chart.save("out.html", embed_options={"renderer": "svg", "actions": False})
